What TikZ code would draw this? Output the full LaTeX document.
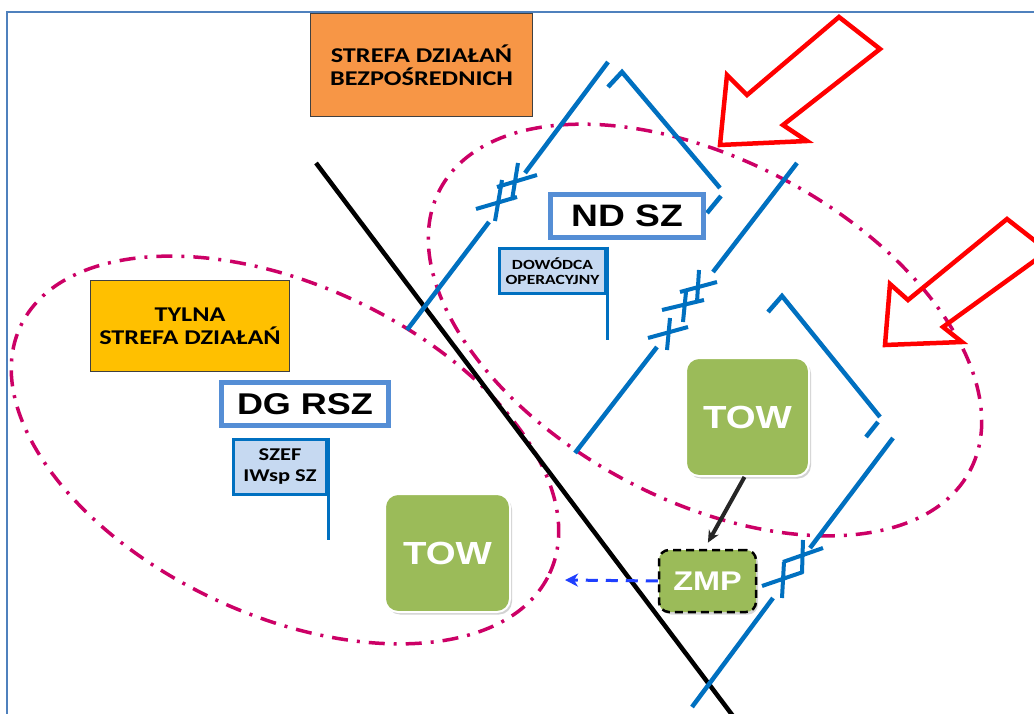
\documentclass[tikz,border=0pt]{standalone}
\usepackage{fontspec}
\setmainfont{Liberation Sans}
\newfontfamily\calfont[FakeStretch=1.25]{Carlito}
\newfontfamily\arifont[FakeStretch=1.2]{Liberation Sans}
\usetikzlibrary{arrows.meta,shadows}
\definecolor{frontblue}{HTML}{0070C0}
\definecolor{boxblue}{HTML}{558ED5}
\definecolor{flagfill}{HTML}{C6D9F1}
\definecolor{framecol}{HTML}{4F81BD}
\definecolor{zonemag}{HTML}{CC0066}
\definecolor{unitgreen}{HTML}{9BBB59}
\definecolor{orangezone}{HTML}{F79646}
\definecolor{yellowzone}{HTML}{FFC000}
\definecolor{evacblue}{HTML}{1F3FFF}
\tikzset{
  zonebox/.style={draw=black!75, line width=1pt, align=center, inner sep=0pt,
    font=\calfont\bfseries\fontsize{21}{23}\selectfont},
  cmdbox/.style={draw=boxblue, line width=4.5pt, fill=white, inner sep=0pt,
    font=\arifont\bfseries\fontsize{30}{32}\selectfont},
  flagbox/.style={draw=frontblue, line width=3.5pt, fill=flagfill, align=center, inner sep=0pt},
  flagpole/.style={draw=frontblue, line width=3.5pt},
  unitbox/.style={fill=unitgreen, draw=white, line width=2pt, rounded corners=13pt,
    text=white, inner sep=0pt,
    drop shadow={opacity=0.35, shadow xshift=2pt, shadow yshift=-2.5pt}},
  frontline/.style={draw=frontblue, line width=4.5pt},
  crossing/.style={draw=frontblue, line width=4pt},
  zoneline/.style={draw=zonemag, line width=3.5pt, dash pattern=on 16pt off 9pt on 3pt off 9pt},
  attack/.style={draw=red, line width=4.5pt, line join=miter},
  border/.style={draw=black, line width=4.5pt},
}
\begin{document}
\begin{tikzpicture}[x=1pt,y=-1pt]
\useasboundingbox (0,0) rectangle (1034,714);
\clip (0,0) rectangle (1034,714);
\fill[white] (0,0) rectangle (1034,714);

% zone ellipses
\draw[zoneline, shift={(705,330)}, rotate=-28] (0,0) ellipse [x radius=300pt, y radius=170pt];
\draw[zoneline, shift={(285,450)}, rotate=-25] (0,0) ellipse [x radius=292pt, y radius=165pt];

% boundary line
\draw[border] (316,163) -- (733,716);

% upper front line with crossing
\draw[frontline] (407,330) -- (489,222);
\draw[frontline] (525,173) -- (608,62);
\draw[crossing] (495,221) -- (502,180) (512,200) -- (518,163)
  (476,209) -- (517,197) (497,187) -- (537,175);
\draw[frontline] (608,87) -- (622,72) -- (720,188);
\draw[frontline] (721,196) -- (707,213);

% middle front line with crossing
\draw[frontline] (575,453) -- (657,347);
\draw[frontline] (713,272) -- (797,163);
\draw[crossing] (683,322) -- (686,292) (697,302) -- (699,270)
  (662,310) -- (704,300) (680,292) -- (717,282)
  (648,338) -- (688,327) (667,350) -- (670,318);
\draw[frontline] (768,312) -- (782,296) -- (880,417);
\draw[frontline] (878,422) -- (866,437);

% right front line with crossing
\draw[frontline] (893,438) -- (810,548);
\draw[frontline] (773,598) -- (692,707);
\draw[crossing] (782,598) -- (784,562) (802,573) -- (803,540)
  (762,586) -- (803,572) (783,562) -- (823,548);

% zones
\node[zonebox, fill=orangezone, minimum width=222pt, minimum height=103pt] (bezp) at (421.5,65)
  {STREFA DZIAŁAŃ\\BEZPOŚREDNICH};
\node[zonebox, fill=yellowzone, minimum width=199pt, minimum height=91pt] (tylna) at (190,326)
  {TYLNA\\STREFA DZIAŁAŃ};

% commands
\node[cmdbox, minimum width=167pt, minimum height=43pt] (dgrsz) at (305,404) {DG RSZ};
\node[cmdbox, minimum width=153pt, minimum height=43pt,
  font=\arifont\bfseries\fontsize{31}{33}\selectfont] (ndsz) at (627,216) {ND SZ};

% flags
\node[flagbox, minimum width=93pt, minimum height=55pt,
  font=\calfont\bfseries\fontsize{18}{21}\selectfont] (szef) at (280,467) {SZEF\\IWsp SZ};
\draw[flagpole] (szef.north east) -- (szef.north east |- 0,540);
\node[flagbox, minimum width=106pt, minimum height=45pt,
  font=\calfont\bfseries\fontsize{14}{15}\selectfont] (dow) at (552.5,271) {DOWÓDCA\\OPERACYJNY};
\draw[flagpole] (dow.north east) -- (dow.north east |- 0,340);

% units
\node[unitbox, minimum width=123pt, minimum height=118pt,
  font=\arifont\bfseries\fontsize{32}{34}\selectfont] (towR) at (747.5,417) {TOW};
\node[unitbox, minimum width=125pt, minimum height=118pt,
  font=\arifont\bfseries\fontsize{32}{34}\selectfont] (towL) at (447.5,553) {TOW};
\node[fill=unitgreen, draw=black, line width=2.5pt, dash pattern=on 8pt off 5pt,
  rounded corners=10pt, text=white, inner sep=0pt, minimum width=97pt, minimum height=62pt,
  font=\arifont\bfseries\fontsize{27}{29}\selectfont,
  drop shadow={opacity=0.3, shadow xshift=2pt, shadow yshift=-2.5pt}] (zmp) at (707.5,581) {ZMP};

% connectors
\draw[black!85, line width=4pt, -{Stealth[length=12pt,width=11pt]}, shorten >=7pt]
  ([xshift=-3pt]towR.south) -- ([xshift=-3pt]zmp.north);
\coordinate (evac) at (565,580);
\draw[evacblue, line width=3pt, dash pattern=on 12pt off 8pt, -{Stealth[length=13pt,width=13pt,inset=4pt]}]
  (zmp.west) -- (evac);

% attack arrows
\draw[attack] (720,145) -- (727,75) -- (747,95) -- (839,17) -- (880,49) -- (783,125) -- (807,141) -- cycle;
\draw[attack] (885,345) -- (890,284) -- (908,300) -- (1007,219) -- (1048,251) -- (943,327) -- (962,342) -- cycle;

% frame
\draw[framecol, line width=1.5pt] (7,716) -- (7,12) -- (1036,12);
\end{tikzpicture}
\end{document}
